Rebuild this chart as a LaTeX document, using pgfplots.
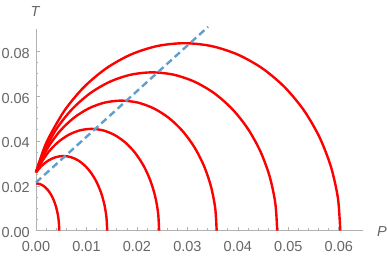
\documentclass[border=0pt]{standalone}
\usepackage{fontspec}
\setmainfont{Liberation Sans}
\usepackage{pgfplots}
\pgfplotsset{compat=1.18}
\definecolor{lblue}{rgb}{0.38,0.62,0.80}
\definecolor{axgray}{gray}{0.70}
\definecolor{txgray}{gray}{0.40}
\begin{document}
\begin{tikzpicture}
\begin{axis}[name=ax,
  scale only axis, width=327pt, height=201.4pt,
  xmin=0, xmax=0.0648, ymin=0, ymax=0.0898,
  axis lines*=left,
  axis line style={axgray, line width=0.8pt},
  xtick={0,0.01,0.02,0.03,0.04,0.05,0.06},
  ytick={0,0.02,0.04,0.06,0.08},
  minor x tick num=4, minor y tick num=3,
  tick align=inside,
  major tick length=4pt, minor tick length=2.5pt,
  tick style={axgray, line width=0.6pt},
  scaled ticks=false,
  /pgf/number format/assume math mode=true,
  /pgf/number format/fixed, /pgf/number format/fixed zerofill, /pgf/number format/precision=2,
  ticklabel style={font=\fontsize{14.5}{16}\selectfont, text=txgray, inner sep=0pt},
  xticklabel style={anchor=north, yshift=-10pt},
  yticklabel style={anchor=east, xshift=-6pt, yshift=-2pt},
  clip=false,
]
\addplot[red, line width=2.4pt, smooth] coordinates {
(0,0.0211)(0.000799,0.02078)(0.001573,0.01983)(0.0023,0.01827)(0.002957,0.01616)(0.003524,0.01356)(0.003984,0.01055)(0.004323,0.00722)(0.00453,0.00366)(0.0046,0)};
\addplot[red, line width=2.4pt, smooth] coordinates {
(0,0.0260)(0.001083,0.02884)(0.002454,0.03129)(0.003916,0.03279)(0.005422,0.0333)(0.006928,0.03279)(0.00839,0.03129)(0.009761,0.02884)(0.011,0.02551)(0.012069,0.02141)(0.012937,0.01665)(0.013577,0.01139)(0.013968,0.00578)(0.0141,0)};
\addplot[red, line width=2.4pt, smooth] coordinates {
(0,0.026)(0.000721,0.02918)(0.002373,0.03478)(0.004288,0.03932)(0.006407,0.04266)(0.008664,0.04471)(0.010992,0.0454)(0.013320,0.04471)(0.015577,0.04266)(0.017696,0.03932)(0.019611,0.03478)(0.021263,0.02918)(0.022603,0.0227)(0.023592,0.01553)(0.024196,0.00788)(0.0244,0)};
\addplot[red, line width=2.4pt, smooth] coordinates {
(0,0.026)(0.000527,0.029)(0.002417,0.03728)(0.004746,0.04443)(0.007445,0.05023)(0.010432,0.0545)(0.013615,0.05712)(0.016897,0.058)(0.020179,0.05712)(0.023362,0.0545)(0.026349,0.05023)(0.029048,0.04443)(0.031377,0.03728)(0.033267,0.029)(0.034660,0.01984)(0.035512,0.01007)(0.0358,0)};
\addplot[red, line width=2.4pt, smooth] coordinates {
(0,0.026)(0.000579,0.02984)(0.001577,0.0353)(0.004054,0.04538)(0.007106,0.05408)(0.010643,0.06114)(0.014557,0.06634)(0.018729,0.06953)(0.023029,0.0706)(0.027329,0.06953)(0.031501,0.06634)(0.035415,0.06114)(0.038952,0.05408)(0.042004,0.04538)(0.044481,0.0353)(0.046306,0.02415)(0.047423,0.01226)(0.0478,0)};
\addplot[red, line width=2.4pt, smooth] coordinates {
(0,0.026)(0.001363,0.03533)(0.002609,0.0418)(0.005701,0.05374)(0.00951,0.06404)(0.013924,0.0724)(0.018809,0.07856)(0.024016,0.08233)(0.029383,0.0836)(0.03475,0.08233)(0.039957,0.07856)(0.044842,0.0724)(0.049256,0.06404)(0.053065,0.05374)(0.056157,0.0418)(0.058436,0.02859)(0.059830,0.01452)(0.0603,0)};
\addplot[lblue, line width=2.4pt, dash pattern=on 7pt off 4pt] coordinates {(0,0.0215)(0.0341,0.0909)};
\end{axis}
\node[font=\fontsize{14.5}{16}\selectfont\itshape, text=txgray] at ([xshift=-1pt,yshift=18pt]ax.north west) {T};
\node[font=\fontsize{14.5}{16}\selectfont\itshape, text=txgray] at ([xshift=19pt,yshift=-1pt]ax.south east) {P};
\pgfresetboundingbox
\path ([xshift=-36pt,yshift=-25.3pt]ax.south west) rectangle ([xshift=25pt,yshift=29.3pt]ax.north east);
\end{tikzpicture}
\end{document}
